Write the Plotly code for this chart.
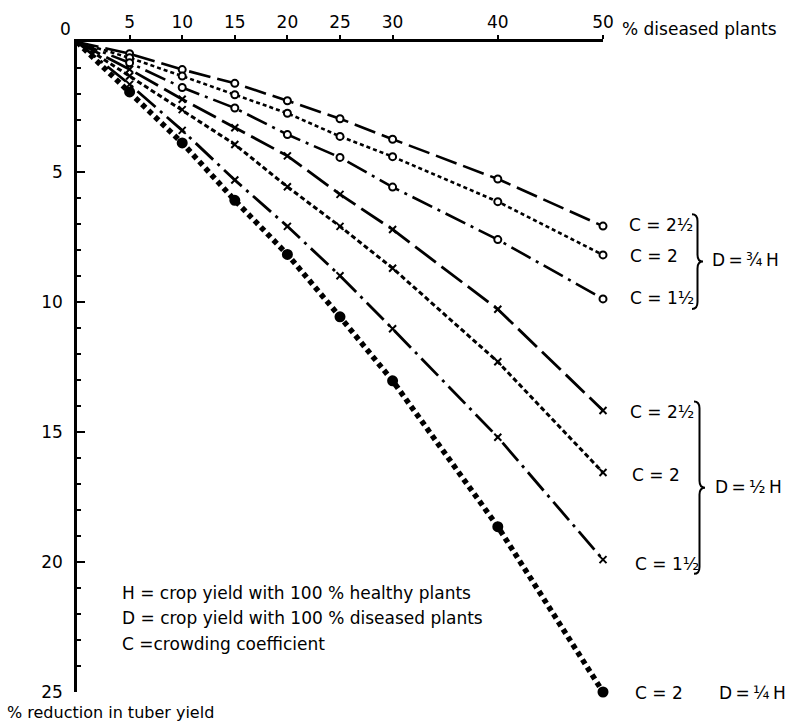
import plotly.graph_objects as go

# ---------------- data ----------------
pct_diseased = [5, 10, 15, 20, 25, 30, 40, 50]
x_tick_vals = [5, 10, 15, 20, 25, 30, 40, 50]
x_tick_text = ["5", "10", "15", "20", "25", "30", "40", "50"]
y_tick_vals = [5, 10, 15, 20, 25]
y_tick_text = ["5", "10", "15", "20", "25"]

# D = 3/4 H
d34_c2_5 = [0.45, 1.06, 1.59, 2.26, 2.95, 3.74, 5.27, 7.08]
d34_c2 = [0.61, 1.31, 2.03, 2.74, 3.63, 4.41, 6.14, 8.19]
d34_c1_5 = [0.80, 1.75, 2.54, 3.56, 4.44, 5.58, 7.60, 9.88]
# D = 1/2 H
d12_c2_5 = [1.05, 2.20, 3.30, 4.38, 5.86, 7.21, 10.28, 14.17]
d12_c2 = [1.31, 2.60, 3.94, 5.57, 7.09, 8.70, 12.30, 16.56]
d12_c1_5 = [1.63, 3.40, 5.31, 7.09, 8.99, 11.03, 15.20, 19.91]
# D = 1/4 H
d14_c2 = [1.92, 3.88, 6.09, 8.17, 10.57, 13.03, 18.64, 25.0]

FONT = "DejaVu Sans"
FS = 17

# plot-area pixel box
L, T, R, B = 77, 32, 603, 692
W, H = R - L, B - T


def px2paper(px, py):
    return (px - L) / W, 1 - (py - T) / H


fig = go.Figure()

series = [
    (d34_c2_5, "22px,7px", 2.6, "circle", 7, "white"),
    (d34_c2, "4px,3px", 2.6, "circle", 7, "white"),
    (d34_c1_5, "22px,6px,3px,6px", 2.6, "circle", 7, "white"),
    (d12_c2_5, "26px,7px", 2.8, "x-thin", 7, "black"),
    (d12_c2, "5px,3px", 3.0, "x-thin", 7, "black"),
    (d12_c1_5, "24px,6px,3px,6px", 2.8, "x-thin", 7, "black"),
    (d14_c2, "5px,4px", 5.5, "circle", 9, "black"),
]

for vals, dash, lw, sym, ms, fill in series:
    fig.add_trace(go.Scatter(
        x=[0] + pct_diseased, y=[0] + vals, mode="lines",
        line=dict(color="black", width=lw, dash=dash),
        cliponaxis=False, showlegend=False, hoverinfo="skip"))
    fig.add_trace(go.Scatter(
        x=pct_diseased, y=vals, mode="markers",
        marker=dict(symbol=sym, size=ms, color=fill,
                    line=dict(color="black", width=2)),
        cliponaxis=False, showlegend=False))

fig.update_xaxes(
    range=[0, 50], side="top", showline=True, linecolor="black", linewidth=2.5,
    showgrid=False, zeroline=False, tickvals=x_tick_vals, ticktext=x_tick_text,
    ticks="outside", ticklen=4, tickwidth=2, tickcolor="black",
    tickfont=dict(family=FONT, size=FS, color="black"))
fig.update_yaxes(
    range=[25, 0], showline=True, linecolor="black", linewidth=2.5,
    showgrid=False, zeroline=False, tickvals=y_tick_vals, ticktext=y_tick_text,
    ticks="inside", ticklen=8, tickwidth=2, tickcolor="black",
    ticklabelstandoff=8,
    minor=dict(dtick=1, ticks="inside", ticklen=4, tickwidth=2, tickcolor="black"),
    tickfont=dict(family=FONT, size=FS, color="black"))

annotations = []


def add_text(text, px, py, anchor="left", size=FS):
    x, y = px2paper(px, py)
    annotations.append(dict(text=text, x=x, y=y, xref="paper", yref="paper",
                            xanchor=anchor, yanchor="middle", showarrow=False,
                            font=dict(family=FONT, size=size, color="black")))


add_text("0", 65, 19, anchor="center")
add_text("% diseased plants", 620, 19)
add_text("% reduction in tuber yield", 5, 713, size=16)
add_text("H = crop yield with 100 % healthy plants", 120, 591)
add_text("D = crop yield with 100 % diseased plants", 120, 617)
add_text("C =crowding coefficient", 120, 643)

add_text("C = 2½", 627, 218)
add_text("C = 2", 628, 249)
add_text("C = 1½", 628, 292)
add_text("D\u2009=\u2009¾\u2009H", 710, 253)

add_text("C = 2½", 628, 408)
add_text("C = 2", 630, 472)
add_text("C = 1½", 633, 562)
add_text("D\u2009=\u2009½\u2009H", 713, 484)

add_text("C = 2", 633, 693)
add_text("D\u2009=\u2009¼\u2009H", 717, 693)


def brace_path(px, ytop, ybot, w=11, r=7):
    xm = px + w / 2
    xt = px + w
    ym = (ytop + ybot) / 2
    pts = [("M", [(px, ytop)]),
           ("Q", [(xm, ytop), (xm, ytop + r)]),
           ("L", [(xm, ym - r)]),
           ("Q", [(xm, ym), (xt, ym)]),
           ("Q", [(xm, ym), (xm, ym + r)]),
           ("L", [(xm, ybot - r)]),
           ("Q", [(xm, ybot), (px, ybot)])]
    s = ""
    for cmd, ps in pts:
        s += cmd + " " + " ".join("%.5f,%.5f" % px2paper(a, b) for a, b in ps) + " "
    return s.strip()


shapes = [
    dict(type="path", xref="paper", yref="paper", path=brace_path(692, 207, 303),
         line=dict(color="black", width=2)),
    dict(type="path", xref="paper", yref="paper", path=brace_path(694, 397, 572),
         line=dict(color="black", width=2)),
]

fig.update_layout(
    width=802, height=722,
    margin=dict(l=L, r=802 - R, t=T, b=722 - B),
    plot_bgcolor="white", paper_bgcolor="white",
    annotations=annotations, shapes=shapes, showlegend=False)

fig.write_html("out.html", config={"displayModeBar": False},
               post_script="document.body.style.margin='0';")
